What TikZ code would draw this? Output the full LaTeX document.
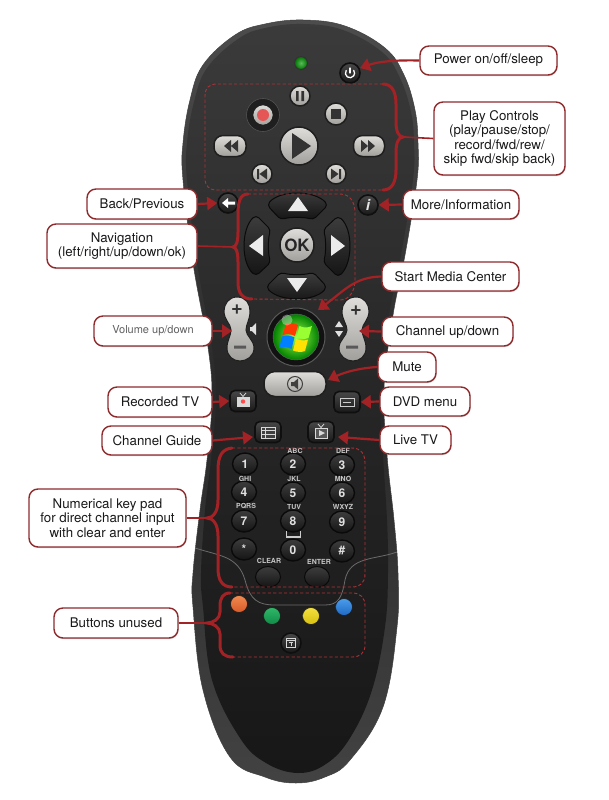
\documentclass[tikz,border=0pt]{standalone}
\usepackage{fontspec}
\setmainfont{TeX Gyre Heros}
\usetikzlibrary{arrows.meta,shadows,calc,shapes.geometric}
\definecolor{cred}{HTML}{8E2A2C}
\definecolor{ared}{HTML}{A32226}
\definecolor{dred}{HTML}{B03036}
\definecolor{ktop}{HTML}{E0DEDA}
\definecolor{kbot}{HTML}{A09F9B}
\tikzset{
  callout/.style={draw=cred,line width=1.4pt,fill=white,rounded corners=9pt,align=center,inner sep=0pt,
    text=black!90,font=\fontsize{13.3}{14.4}\selectfont,
    drop shadow={shadow xshift=0.6pt,shadow yshift=-1pt,opacity=.35,fill=black!60}},
  pointer/.style={draw=ared,line width=2.2pt,-{Triangle[length=10pt,width=13pt]}},
  lead/.style={draw=ared,line width=1.6pt},
  curly/.style={draw=ared,line width=3pt,line cap=round},
  dashbox/.style={draw=dred,line width=.9pt,dash pattern=on 3.2pt off 2.2pt},
  lightkey/.style={draw=black!88,line width=1.5pt,top color=ktop,bottom color=kbot,inner sep=0pt},
  darkkey/.style={draw=black!94,line width=1.6pt,top color=black!72,bottom color=black!90,inner sep=0pt},
  roundlight/.style={lightkey,circle},
  rounddark/.style={darkkey,circle},
  squaredark/.style={darkkey,rectangle,rounded corners=5pt,minimum width=26pt,minimum height=21pt},
  digit/.style={draw=black!96,line width=1.4pt,ellipse,minimum width=25pt,minimum height=22pt,top color=black!76,bottom color=black!92,text=white!88!black,
    font=\fontsize{12}{12}\bfseries\selectfont,inner sep=0pt},
  softkey/.style={ellipse,minimum width=25pt,minimum height=21pt,inner sep=0pt,draw=black!96,line width=1pt,top color=black!76,bottom color=black!92},
  tiny/.style={text=black!22,font=\fontsize{7}{7}\bfseries\selectfont,inner sep=0pt},
  navkey/.style={top color=black!76,bottom color=black!92,draw=black!96,line width=1pt,rounded corners=4pt},
  rocker/.style={top color=ktop,bottom color=kbot,draw=black!88,line width=1pt},
  colorkey/.style={circle,minimum size=17pt,inner sep=0pt,draw=black!90,line width=.6pt}
}
\begin{document}
\begin{tikzpicture}[x=1pt,y=-1pt]
\useasboundingbox (0,0) rectangle (608,800);
% body
\path[top color=black!70,bottom color=black!74,middle color=black!84,draw=black!75,line width=.5pt]
 plot[smooth cycle,tension=.65] coordinates {(303,20)(345,26)(385,48)(404,75)(415,110)(418,143)(417,180)(405,255)(393,315)(384,388)(387,455)(394,520)(398,573)(397,627)(383,707)(350,760)(325,777)(296,783)(265,777)(230,757)(203,690)(193,607)(193,573)(200,510)(207,460)(212,400)(208,347)(193,263)(183,180)(183,143)(190,100)(203,65)(235,35)(265,24)};
\path[top color=black!77,bottom color=black!91,middle color=black!85]
 plot[smooth cycle,tension=.65] coordinates {(303,24)(343,30)(382,52)(400,78)(411,112)(414,143)(413,180)(401,255)(389,315)(380,388)(383,455)(387,520)(388,573)(385,627)(372,690)(350,738)(326,764)(298,773)(266,763)(240,738)(212,680)(203,607)(201,573)(205,510)(211,460)(216,400)(212,347)(197,263)(187,180)(187,143)(194,102)(207,68)(238,39)(265,28)};
\draw[black!58,line width=.8pt] (195,548) .. controls (220,556) and (238,556) .. (245,580) .. controls (250,600) and (258,605) .. (275,605) -- (325,605) .. controls (338,605) and (342,598) .. (345,580) .. controls (350,556) and (375,560) .. (397,552);
% LED
\node[circle,minimum size=13pt,inner sep=0pt,draw=black!80,line width=1pt,inner color=green!60!black!65!white,outer color=green!45!black] (led) at (301,63) {};
% play group
\node[rounddark,minimum size=20pt] (power) at (350,73) {};
\draw[white,line width=1.3pt,line cap=round] (346.2,70.5) arc[start angle=215,end angle=-35,radius=4.6];
\draw[white,line width=1.3pt,line cap=round] (350,68) -- (350,73);
\node[roundlight,minimum size=20pt] (pausek) at (300,96) {};
\fill[black!80] (296,91) rectangle (298.6,101) (301.4,91) rectangle (304,101);
\node[circle,minimum size=33pt,fill=black!88,draw=black!68,line width=.6pt,inner sep=0pt] (recring) at (263,115) {};
\node[roundlight,minimum size=21pt] (reck) at (263,115) {};
\fill[red!62!white!90!black] (263,115) circle[radius=6];
\node[roundlight,minimum size=22pt] (stopk) at (336,114) {};
\fill[black!80] (331,109) rectangle (341,119);
\node[roundlight,minimum size=38pt] (playk) at (299,146) {};
\fill[black!80] (292,133) -- (311,146) -- (292,159) -- cycle;
\node[lightkey,rectangle,rounded corners=9pt,minimum width=32pt,minimum height=21pt] (rewk) at (230,146) {};
\fill[black!80] (224,146) -- (231,140) -- (231,152) -- cycle (231,146) -- (238,140) -- (238,152) -- cycle;
\node[lightkey,rectangle,rounded corners=9pt,minimum width=31pt,minimum height=21pt] (ffk) at (369,146) {};
\fill[black!80] (375,146) -- (368,140) -- (368,152) -- cycle (368,146) -- (361,140) -- (361,152) -- cycle;
\node[roundlight,minimum size=20pt] (prevk) at (262,174) {};
\fill[black!80] (257,169) rectangle (259,179) (259.5,174) -- (267,168.5) -- (267,179.5) -- cycle;
\node[roundlight,minimum size=20pt] (nextk) at (336,174) {};
\fill[black!80] (339,169) rectangle (341,179) (338.5,174) -- (331,168.5) -- (331,179.5) -- cycle;
% back, info
\node[rounddark,minimum size=20pt] (back) at (228,203) {};
\fill[white] (222,203) -- (228,198) -- (228,201.5) -- (235,201.5) -- (235,204.5) -- (228,204.5) -- (228,208) -- cycle;
\node[rounddark,minimum size=20pt,text=white!90!black,font=\fontsize{15}{15}\bfseries\itshape\selectfont] (info) at (368,205) {i};
% nav keys
\foreach \a in {0,90,180,270}{
\begin{scope}[rotate around={\a:(297,246)}]
\path[navkey] (267,205) .. controls (280,190) and (314,190) .. (328,205) -- (313,220) .. controls (305,217) and (289,217) .. (281,220) -- cycle;
\end{scope}}
\fill[white!92!black] (288,211) -- (308,211) -- (298,197) -- cycle;
\fill[white!92!black] (287,278) -- (307,278) -- (297,292) -- cycle;
\fill[white!92!black] (249,246) -- (263,235) -- (263,256) -- cycle;
\fill[white!92!black] (345,246) -- (331,235) -- (331,256) -- cycle;
\node[roundlight,minimum size=34pt,text=black!85,font=\fontsize{17}{17}\bfseries\selectfont] (okk) at (297,245) {OK};
% rockers
\path[rocker] (237,297) .. controls (246,297) and (250,304) .. (250,311) .. controls (250,320) and (246,324) .. (246,330) .. controls (246,336) and (254,340) .. (254,348) .. controls (254,356) and (247,361) .. (240,361) .. controls (233,361) and (227,356) .. (227,348) .. controls (227,340) and (231,336) .. (231,330) .. controls (231,324) and (224,320) .. (224,311) .. controls (224,304) and (229,297) .. (237,297) -- cycle;
\path[rocker] (356,297) .. controls (347,297) and (342,304) .. (342,311) .. controls (342,320) and (347,324) .. (347,330) .. controls (347,336) and (339,340) .. (339,348) .. controls (339,356) and (346,361) .. (353,361) .. controls (360,361) and (366,356) .. (366,348) .. controls (366,340) and (362,336) .. (362,330) .. controls (362,324) and (369,320) .. (369,311) .. controls (369,304) and (364,297) .. (356,297) -- cycle;
\node[font=\fontsize{20}{20}\bfseries\selectfont,text=black!80,inner sep=0pt] (volp) at (237,309.5) {+};
\node[font=\fontsize{20}{20}\bfseries\selectfont,text=black!80,inner sep=0pt] (chp) at (356,310.5) {+};
\fill[black!65] (234,345.5) rectangle (246,348.5) (346,345.5) rectangle (358,348.5);
\fill[black!12] (250,327) rectangle (252,331) -- (256,335) -- (256,323) -- (252,327) -- cycle;
\fill[black!12] (335,327) -- (339,321) -- (343,327) -- cycle (335,331) -- (343,331) -- (339,337) -- cycle;
\coordinate (volt) at (232,331);
\coordinate (cht) at (359,331);
% windows button
\node[circle,minimum size=58pt,inner sep=0pt,draw=black!65,line width=1pt,fill=black!93] (start) at (296,337) {};
\node[circle,minimum size=46pt,inner sep=0pt,inner color=green!55!yellow!70!white,outer color=green!50!black,draw=black!60,line width=.4pt] (orb) at (296,337) {};
\fill[red!55!orange] (286,324) .. controls (290,322) and (294,323) .. (298,325) -- (295,336) .. controls (291,334) and (287,333.5) .. (282.5,335) -- cycle;
\fill[green!50!yellow!80!white] (299.5,326) .. controls (303,328) and (308,328) .. (312,326) -- (308.5,338) .. controls (304.5,339.5) and (300.5,339) .. (296.5,337.5) -- cycle;
\fill[blue!50!cyan] (282,336.5) .. controls (286,335) and (291,335.5) .. (294.5,337.5) -- (291.5,349) .. controls (288,347) and (283,346.5) .. (279,348) -- cycle;
\fill[yellow!85!orange] (296,339) .. controls (300,340.5) and (304,341) .. (308,339.5) -- (305,351) .. controls (301,352.5) and (297,352) .. (293,350.5) -- cycle;
\fill[white,opacity=.35] (287,320) circle[radius=5.5];
% mute
\node[lightkey,rectangle,rounded corners=11pt,minimum width=62pt,minimum height=25pt] (mute) at (295,384) {};
\draw[black!75,line width=1pt] (295,384) circle[radius=7.5];
\fill[black!75] (291,382) rectangle (294,386) -- (298,389.5) -- (298,378.5) -- (294,382) -- cycle;
% square keys
\node[squaredark] (rectv) at (243,401) {};
\draw[white!85!black,line width=.8pt,fill=white!85!black] (237,397) rectangle (249,406);
\fill[red!70!white] (243,401.5) circle[radius=2.2];
\draw[white!85!black,line width=.8pt] (240,393) -- (243,396.5) -- (246,393);
\node[squaredark] (dvd) at (347,402) {};
\draw[white!80!black,line width=1pt] (340,398) rectangle (354,406);
\draw[white!80!black,line width=.8pt] (343,402) -- (351,402);
\node[squaredark] (guide) at (268,432) {};
\draw[white!85!black,line width=1pt,fill=black!75] (261,427) rectangle (275,438);
\draw[white!85!black,line width=.9pt] (265,427) -- (265,438) (261,430.7) -- (275,430.7) (261,434.3) -- (275,434.3);
\node[squaredark] (live) at (321,432) {};
\draw[white!85!black,line width=1pt,fill=black!65] (315,428) rectangle (327,438);
\fill[white!85!black] (319,430) -- (325,433) -- (319,436) -- cycle;
\draw[white!85!black,line width=.8pt] (318,424) -- (321,427.5) -- (324,424);
% keypad
\foreach \n/\t/\x/\y in {k1/1/245/464,k2/2/293/464,k3/3/342/465,k4/4/244/492,k5/5/293/493,k6/6/342/493,k7/7/244/521,k8/8/293/521,k9/9/342/522,kstar/*/244/549,k0/0/293/550,khash/\#/342/551}{
\node[digit] (\n) at (\x,\y) {\t};
}
\node[softkey] (clear) at (268,577) {};
\node[softkey] (enter) at (317,577) {};
\node[tiny] (labc) at (295,451) {ABC};
\node[tiny] (ldef) at (343,451) {DEF};
\node[tiny] (lghi) at (245,478.5) {GHI};
\node[tiny] (ljkl) at (294,479) {JKL};
\node[tiny] (lmno) at (343,479) {MNO};
\node[tiny] (lpqrs) at (246,506) {PQRS};
\node[tiny] (ltuv) at (294,507) {TUV};
\node[tiny] (lwxyz) at (343,507) {WXYZ};
\node[tiny] (lclear) at (269,561) {CLEAR};
\node[tiny] (lenter) at (319,562) {ENTER};
\draw[black!20,line width=1.1pt] (286.5,531) -- (286.5,537) -- (300.5,537) -- (300.5,531);
% color buttons
\definecolor{oa}{HTML}{F08A50}\definecolor{ob}{HTML}{D85A28}
\definecolor{ga}{HTML}{30B868}\definecolor{gb}{HTML}{108A48}
\definecolor{ya}{HTML}{F4E040}\definecolor{yb}{HTML}{D8C010}
\definecolor{ba}{HTML}{4A9CEC}\definecolor{bb}{HTML}{1F6AC4}
\node[colorkey,top color=oa,bottom color=ob] (corange) at (239,604) {};
\node[colorkey,top color=ga,bottom color=gb] (cgreen) at (272,616) {};
\node[colorkey,top color=ya,bottom color=yb] (cyellow) at (311,616) {};
\node[colorkey,top color=ba,bottom color=bb] (cblue) at (344,607) {};
\node[rounddark,minimum size=20pt] (text) at (291,643) {};
\draw[white!85!black,line width=.9pt] (286.5,638.5) rectangle (295.5,647.5) (286.5,640.5) -- (295.5,640.5) (291,642.5) -- (291,646) (289,642.5) -- (293,642.5);
% dashed regions
\draw[dashbox] (383,84) -- (217,84) .. controls (209,84) and (205,88) .. (205,96) -- (205,178) .. controls (205,186) and (209,190) .. (217,190) -- (383,190);
\draw[dashbox] (248,194) -- (340,194) .. controls (350,194) and (355,202) .. (355,213) -- (355,280) .. controls (355,290) and (350,300) .. (340,300) -- (252,299);
\draw[dashbox] (232,448) -- (352,448) .. controls (361,448) and (365,454) .. (365,463) -- (365,574) .. controls (365,583) and (360,587) .. (352,587) -- (232,587);
\draw[dashbox] (230,593) -- (352,593) .. controls (361,593) and (365,598) .. (365,606) -- (365,645) .. controls (365,653) and (360,657) .. (352,657) -- (233,657);
% braces
\draw[curly] (383,84) .. controls (392,84) and (396,92) .. (396,104) -- (396,122) .. controls (396,132) and (399,137) .. (403,137) .. controls (399,137) and (396,142) .. (396,152) -- (396,170) .. controls (396,182) and (392,190) .. (383,190);
\draw[curly] (248,194) .. controls (240,194) and (238,202) .. (238,214) -- (238,232) .. controls (238,242) and (236,247) .. (233,247) .. controls (236,247) and (238,252) .. (238,262) -- (238,282) .. controls (238,293) and (242,299) .. (252,299);
\draw[curly] (232,448) .. controls (222,449) and (218,456) .. (218,470) -- (218,500) .. controls (218,512) and (213,518) .. (207,518) .. controls (213,518) and (218,524) .. (218,536) -- (218,568) .. controls (218,580) and (222,587) .. (232,587);
\draw[curly] (230,593) .. controls (223,593) and (220,598) .. (220,606) -- (220,612) .. controls (220,619) and (213,623) .. (207,623) .. controls (213,623) and (220,627) .. (220,634) -- (220,645) .. controls (220,653) and (224,657) .. (233,657);
\coordinate (playtip) at (403,137);
\coordinate (navtip) at (233,247);
\coordinate (padtip) at (207,518);
\coordinate (unusedtip) at (207,623);
\coordinate (guidetip) at (253,437);
\coordinate (livetip) at (338,437);
\coordinate (mutetip) at (328,380);
\coordinate (starttip) at (318,310);
\coordinate (powertip) at (360,68);
% callouts
\node[callout,minimum width=137pt,minimum height=29pt] (cpower) at (488.5,60.5) {Power on/off/sleep};
\node[callout,minimum width=131pt,minimum height=73pt] (cplay) at (499.5,138.5) {Play Controls\\(play/pause/stop/\\record/fwd/rew/\\skip fwd/skip back)};
\node[callout,minimum width=116pt,minimum height=29pt] (cinfo) at (461,204.5) {More/Information};
\node[callout,minimum width=110pt,minimum height=30pt] (cback) at (142,204) {Back/Previous};
\node[callout,minimum width=150pt,minimum height=44pt] (cnav) at (122,246) {Navigation\\(left/right/up/down/ok)};
\node[callout,minimum width=118pt,minimum height=30pt,font=\fontsize{11}{12}\selectfont,text=black!62] (cvol) at (153,331) {Volume up/down};
\node[callout,minimum width=104pt,minimum height=30pt] (crec) at (160,402) {Recorded TV};
\node[callout,minimum width=110pt,minimum height=29pt] (cguide) at (157,440.5) {Channel Guide};
\node[callout,minimum width=137pt,minimum height=29pt] (cstart) at (450.5,276.5) {Start Media Center};
\node[callout,minimum width=131pt,minimum height=29pt] (cchan) at (447.5,331.5) {Channel up/down};
\node[callout,minimum width=58pt,minimum height=30pt] (cmute) at (407,367) {Mute};
\node[callout,minimum width=90pt,minimum height=29pt] (cdvd) at (425,401.5) {DVD menu};
\node[callout,minimum width=71pt,minimum height=28pt] (clive) at (415.5,440) {Live TV};
\node[callout,minimum width=157pt,minimum height=58pt] (cpad) at (107.5,518) {Numerical key pad\\for direct channel input\\with clear and enter};
\node[callout,minimum width=124pt,minimum height=30pt] (cunused) at (116,623) {Buttons unused};
% connectors
\draw[pointer] (cpower.west) .. controls (400,60) and (380,61) .. (powertip);
\draw[pointer] (cback.east) -- (back.west);
\draw[pointer] (cinfo.west) -- (info.east);
\draw[pointer] (cvol.east) -- (volt);
\draw[pointer] (cchan.west) -- (cht);
\draw[pointer] (crec.east) -- (rectv.west);
\draw[pointer] (cdvd.west) -- (dvd.east);
\draw[pointer] (cguide.east) -- (guidetip);
\draw[pointer] (clive.west) -- (livetip);
\draw[pointer] (cmute.west) .. controls (360,368) and (345,372) .. (mutetip);
\draw[pointer] (cstart.west) .. controls (355,277) and (345,290) .. (starttip);
\draw[lead] (cplay.west) -- (playtip);
\draw[lead] (cnav.east) -- (navtip);
\draw[lead] (cpad.east) -- (padtip);
\draw[lead] (cunused.east) -- (unusedtip);
\end{tikzpicture}
\end{document}
